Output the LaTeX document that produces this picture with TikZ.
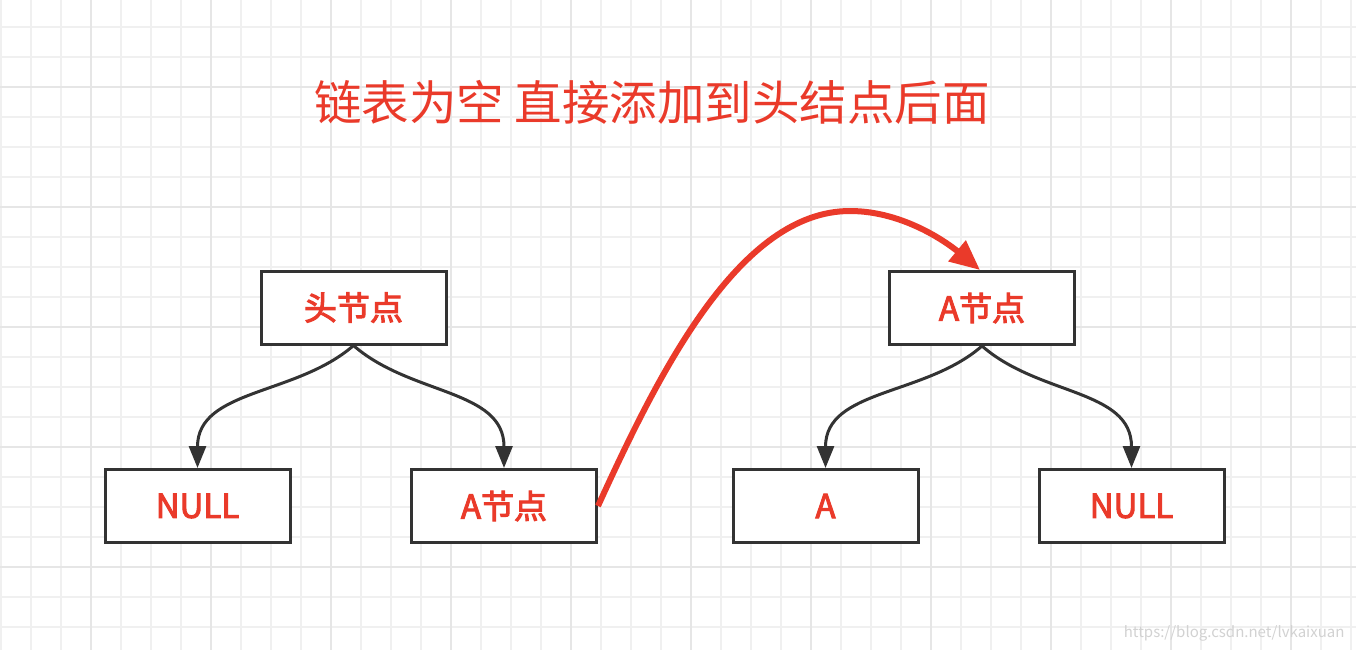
\documentclass[tikz,border=0pt]{standalone}
\usepackage{fontspec}
\setmainfont{Noto Sans CJK SC}
\newfontfamily\boxfont{Noto Sans CJK SC}[FakeBold=3]
\usetikzlibrary{arrows.meta}
\definecolor{tred}{HTML}{EA3A2A}
\definecolor{dk}{HTML}{333333}
\definecolor{gthin}{HTML}{F0F0F0}
\definecolor{gthick}{HTML}{E6E6E6}
\begin{document}
\begin{tikzpicture}[x=1pt,y=-1pt,
  box/.style={draw=dk,line width=3pt,fill=white,minimum width=185pt,minimum height=73pt,inner sep=0pt,
    text=tred,font=\boxfont\fontsize{33}{38}\selectfont},
  link/.style={draw=dk,line width=3pt,-{Triangle[length=22pt,width=17pt]}},
  redlink/.style={draw=tred,line width=6pt,-{Triangle[length=30pt,width=26pt]}},
  thin/.style={draw=gthin,line width=2pt},
  thick/.style={draw=gthick,line width=2.4pt}]
\useasboundingbox (0,0) rectangle (1356,650);
\fill[white] (0,0) rectangle (1356,650);
% grid
\foreach \i in {0,...,45} {\draw[thin] (1+30*\i,0) -- (1+30*\i,650);}
\foreach \i in {0,...,21} {\draw[thin] (0,27+30*\i) -- (1356,27+30*\i);}
\foreach \i in {0,...,11} {\draw[thick] (91+120*\i,0) -- (91+120*\i,650);}
\foreach \i in {0,...,4} {\draw[thick] (0,87+120*\i) -- (1356,87+120*\i);}
% title
\node[text=tred,font=\fontsize{47.5}{52}\selectfont] (title) at (652,102) {链表为空 直接添加到头结点后面};
% nodes
\node[box] (head) at (353.5,307.5) {头节点};
\node[box] (nullL) at (197.5,506) {NULL};
\node[box] (aL) at (504,506) {A节点};
\node[box] (aR) at (982,308) {A节点};
\node[box] (a) at (825.5,506) {A};
\node[box] (nullR) at (1131.5,506) {NULL};
% connectors
\draw[link] (head.south) .. controls +(57,50) and +(0,-79) .. (aL.north);
\draw[link] (head.south) .. controls +(-57,50) and +(0,-79) .. (nullL.north);
\draw[link] (aR.south) .. controls +(-57,50) and +(0,-79) .. (a.north);
\draw[link] (aR.south) .. controls +(57,50) and +(0,-79) .. (nullR.north);
\coordinate (peak) at (850,211);
\draw[redlink] (aL.east) .. controls (660,370) and (740,211) .. (peak) .. controls (905,211) and (950,245) .. ([xshift=-2pt]aR.north);
% watermark
\node[text=gthick!80!gray,font=\fontsize{15}{18}\selectfont,anchor=east] (wm) at (1348,633) {https://blog.csdn.net/lvkaixuan};
\end{tikzpicture}
\end{document}
